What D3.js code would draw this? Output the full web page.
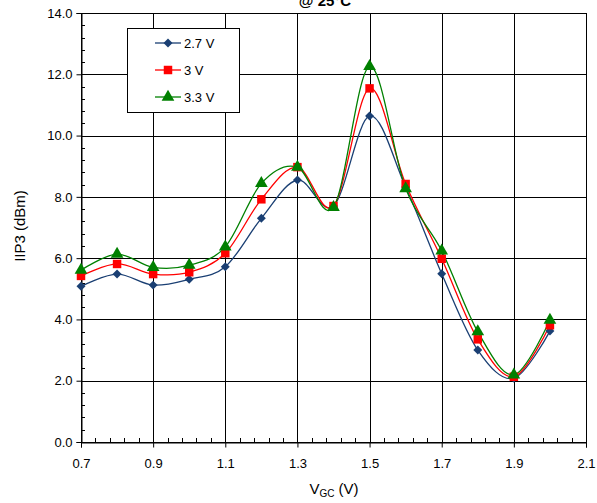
<!DOCTYPE html>
<html><head><meta charset="utf-8">
<script src="https://cdn.jsdelivr.net/npm/d3@7/dist/d3.min.js"></script>
<style>body{margin:0;background:#fff}svg{display:block;font-family:"Liberation Sans",Arial,sans-serif}</style>
</head><body>
<script>
const vgc = [0.7,0.8,0.9,1.0,1.1,1.2,1.3,1.4,1.5,1.6,1.7,1.8,1.9,2.0];
const v27 = [5.08,5.48,5.12,5.31,5.72,7.30,8.55,7.70,10.64,8.32,5.49,3.00,2.08,3.62];
const v30 = [5.42,5.81,5.48,5.54,6.16,7.92,8.97,7.70,11.54,8.42,5.98,3.35,2.13,3.81];
const v33 = [5.61,6.13,5.70,5.77,6.37,8.44,8.97,7.66,12.26,8.27,6.24,3.60,2.19,3.98];
const seriesNames = ["2.7 V","3 V","3.3 V"];
const xTicks = [0.7,0.9,1.1,1.3,1.5,1.7,1.9,2.1];
const yTicks = [0,2,4,6,8,10,12,14];

const W=597,H=503;
const svg=d3.select("body").append("svg").attr("width",W).attr("height",H);
const x=d3.scaleLinear().domain([0.7,2.1]).range([81,586]);
const y=d3.scaleLinear().domain([0,14]).range([442,13]);

// title (partly cut off at the top, as in the reference)
svg.append("text").attr("x",325).attr("y",6).attr("text-anchor","middle")
  .attr("font-size",15).attr("font-weight","bold").text("@ 25°C");

// grid
const g=svg.append("g");
g.selectAll(".gx").data(xTicks.slice(1,-1)).enter().append("line")
  .attr("x1",d=>Math.round(x(d))+0.5).attr("x2",d=>Math.round(x(d))+0.5)
  .attr("y1",y(14)).attr("y2",y(0)).attr("stroke","#000").attr("stroke-width",1);
g.selectAll(".gy").data(yTicks.slice(1,-1)).enter().append("line")
  .attr("y1",d=>Math.round(y(d))+0.5).attr("y2",d=>Math.round(y(d))+0.5)
  .attr("x1",x(0.7)).attr("x2",x(2.1)).attr("stroke","#000").attr("stroke-width",1);

// frame
svg.append("rect").attr("x",Math.round(x(0.7))+0.5).attr("y",Math.round(y(14))+0.5)
  .attr("width",Math.round(x(2.1))-Math.round(x(0.7))).attr("height",Math.round(y(0))-Math.round(y(14)))
  .attr("fill","none").attr("stroke","#000");

// minor ticks (inside)
const xMinor=d3.range(0,36).map(i=>0.7+i*0.04).filter(v=>v<2.1-1e-6);
svg.selectAll(".xm").data(xMinor).enter().append("line")
  .attr("x1",d=>Math.round(x(d))+0.5).attr("x2",d=>Math.round(x(d))+0.5)
  .attr("y1",Math.round(y(0))).attr("y2",Math.round(y(0))-4).attr("stroke","#000");
const yMinor=d3.range(0,36).map(i=>i*0.4).filter(v=>v<14-1e-6);
svg.selectAll(".ym").data(yMinor).enter().append("line")
  .attr("y1",d=>Math.round(y(d))+0.5).attr("y2",d=>Math.round(y(d))+0.5)
  .attr("x1",Math.round(x(0.7))).attr("x2",Math.round(x(0.7))+4).attr("stroke","#000");

// axes (major ticks outward)
const xa=svg.append("g").attr("transform",`translate(0,${Math.round(y(0))+0.5})`)
  .call(d3.axisBottom(x).tickValues(xTicks).tickFormat(d3.format(".1f")).tickSizeOuter(0).tickSize(5).tickPadding(11));
const ya=svg.append("g").attr("transform",`translate(${Math.round(x(0.7))+0.5},0)`)
  .call(d3.axisLeft(y).tickValues(yTicks).tickFormat(d3.format(".1f")).tickSizeOuter(0).tickSize(5).tickPadding(4));
[xa,ya].forEach(a=>{a.select(".domain").attr("stroke","#000");a.selectAll("line").attr("stroke","#000");
  a.selectAll("text").attr("font-size",13).attr("fill","#000").attr("font-family","Liberation Sans, Arial, sans-serif");});

// axis titles
svg.append("text").attr("transform","translate(25,226) rotate(-90)").attr("text-anchor","middle")
  .attr("font-size",15).text("IIP3 (dBm)");
const xt=svg.append("text").attr("x",334).attr("y",494).attr("text-anchor","middle").attr("font-size",15);
xt.append("tspan").text("V");
xt.append("tspan").attr("font-size",10).attr("dy",3).text("GC");
xt.append("tspan").attr("dy",-3).text(" (V)");

// series
const colors=["#1A3F73","#FF0000","#008000"];
const data=[v27,v30,v33];
const line=d3.line().x((d,i)=>x(vgc[i])).y(d=>y(d)).curve(d3.curveCardinal.tension(0));
const diamond={draw(ctx,size){const r=Math.sqrt(size/2);ctx.moveTo(0,-r);ctx.lineTo(r,0);ctx.lineTo(0,r);ctx.lineTo(-r,0);ctx.closePath();}};
const sym=[diamond,d3.symbolSquare,d3.symbolTriangle];
const symSize=[40,72,70];
data.forEach((s,k)=>{
  svg.append("path").attr("d",line(s)).attr("fill","none").attr("stroke",colors[k]).attr("stroke-width",1.3);
});
data.forEach((s,k)=>{
  svg.selectAll(".m"+k).data(s).enter().append("path")
    .attr("d",d3.symbol().type(sym[k]).size(symSize[k]))
    .attr("transform",(d,i)=>`translate(${x(vgc[i])},${y(d)})`)
    .attr("fill",colors[k]);
});

// legend
const lg=svg.append("g");
lg.append("rect").attr("x",127.5).attr("y",28.5).attr("width",112).attr("height",84)
  .attr("fill","#fff").attr("stroke","#000");
const ly=[43,70,97];
seriesNames.forEach((n,k)=>{
  lg.append("line").attr("x1",155).attr("x2",181).attr("y1",ly[k]).attr("y2",ly[k]).attr("stroke",colors[k]).attr("stroke-width",1.3);
  lg.append("path").attr("d",d3.symbol().type(sym[k]).size(symSize[k])).attr("transform",`translate(168,${ly[k]})`).attr("fill",colors[k]);
  lg.append("text").attr("x",184).attr("y",ly[k]+5).attr("font-size",13).text(n);
});
</script>
</body></html>
